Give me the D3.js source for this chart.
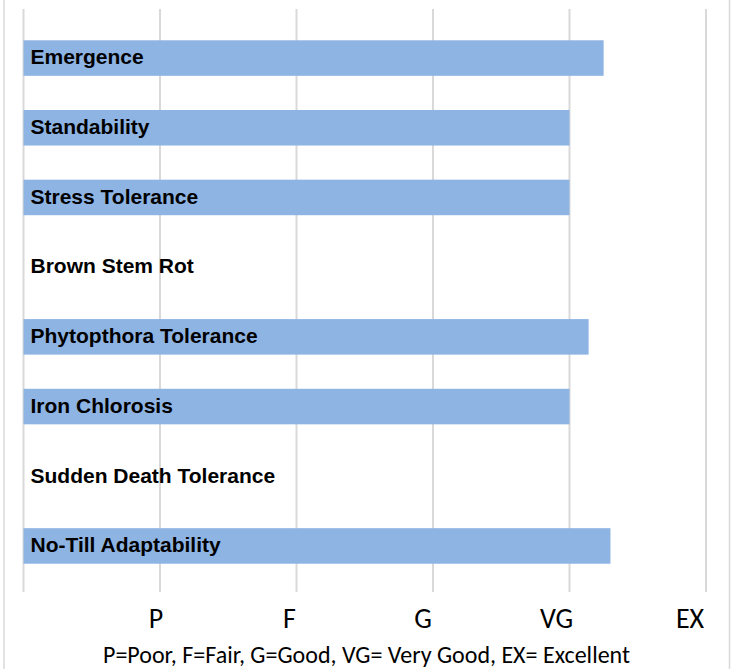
<!DOCTYPE html>
<html><head><meta charset="utf-8">
<script src="https://cdn.jsdelivr.net/npm/d3@7"></script>
<style>body{margin:0;background:#fff}svg{display:block}</style>
</head><body>
<svg id="c" width="733" height="669"></svg>
<script>
const categories = ["Emergence","Standability","Stress Tolerance","Brown Stem Rot","Phytopthora Tolerance","Iron Chlorosis","Sudden Death Tolerance","No-Till Adaptability"];
const values = [4.25, 4.0, 4.0, 0, 4.14, 4.0, 0, 4.3];
const tickValues = [0,1,2,3,4,5];
const tickLabels = ["P","F","G","VG","EX"];
const legendText = "P=Poor, F=Fair, G=Good, VG= Very Good, EX= Excellent";

const svg = d3.select("#c");
const W = 733, H = 669;
const x = d3.scaleLinear().domain([0,5]).range([23.5, 706]);
const y = d3.scaleBand().domain(categories).range([23.2, 580.8]).paddingInner(0.49).paddingOuter(0.245);
const gridTop = 9, gridBottom = 592;

// frame
svg.append("line").attr("x1",4).attr("x2",4).attr("y1",0).attr("y2",H).attr("stroke","#d9d9d9").attr("stroke-width",1.5);
svg.append("line").attr("x1",729.5).attr("x2",729.5).attr("y1",0).attr("y2",H).attr("stroke","#d9d9d9").attr("stroke-width",1.5);

// gridlines
svg.append("g").selectAll("line").data(tickValues).join("line")
  .attr("x1",d=>x(d)).attr("x2",d=>x(d)).attr("y1",gridTop).attr("y2",gridBottom)
  .attr("stroke","#d9d9d9").attr("stroke-width",2);

// bars
svg.append("g").selectAll("rect").data(categories).join("rect")
  .attr("x",x(0)).attr("y",d=>y(d)).attr("height",y.bandwidth())
  .attr("width",(d,i)=>x(values[i])-x(0)).attr("fill","#8eb4e3");

// labels
svg.append("g").selectAll("text").data(categories).join("text")
  .attr("x",x(0)+7).attr("y",d=>y(d)+y.bandwidth()/2).attr("dy","0.3em")
  .attr("font-family","'Liberation Sans', Arial, sans-serif").attr("font-weight","bold")
  .attr("font-size",21).attr("fill","#000").text(d=>d);

// tick labels (text box under axis)
const tl = d3.scalePoint().domain(tickLabels).range([156, 690]);
svg.append("g").selectAll("text").data(tickLabels).join("text")
  .attr("x",d=>tl(d)).attr("y",628).attr("text-anchor","middle")
  .attr("font-family","Carlito, 'Open Sans', sans-serif").attr("font-size",28).attr("fill","#000").text(d=>d);

svg.append("text").attr("x",366.5).attr("y",663).attr("text-anchor","middle")
  .attr("font-family","Carlito, 'Open Sans', sans-serif").attr("font-size",24).attr("fill","#000").text(legendText);
</script>
</body></html>
